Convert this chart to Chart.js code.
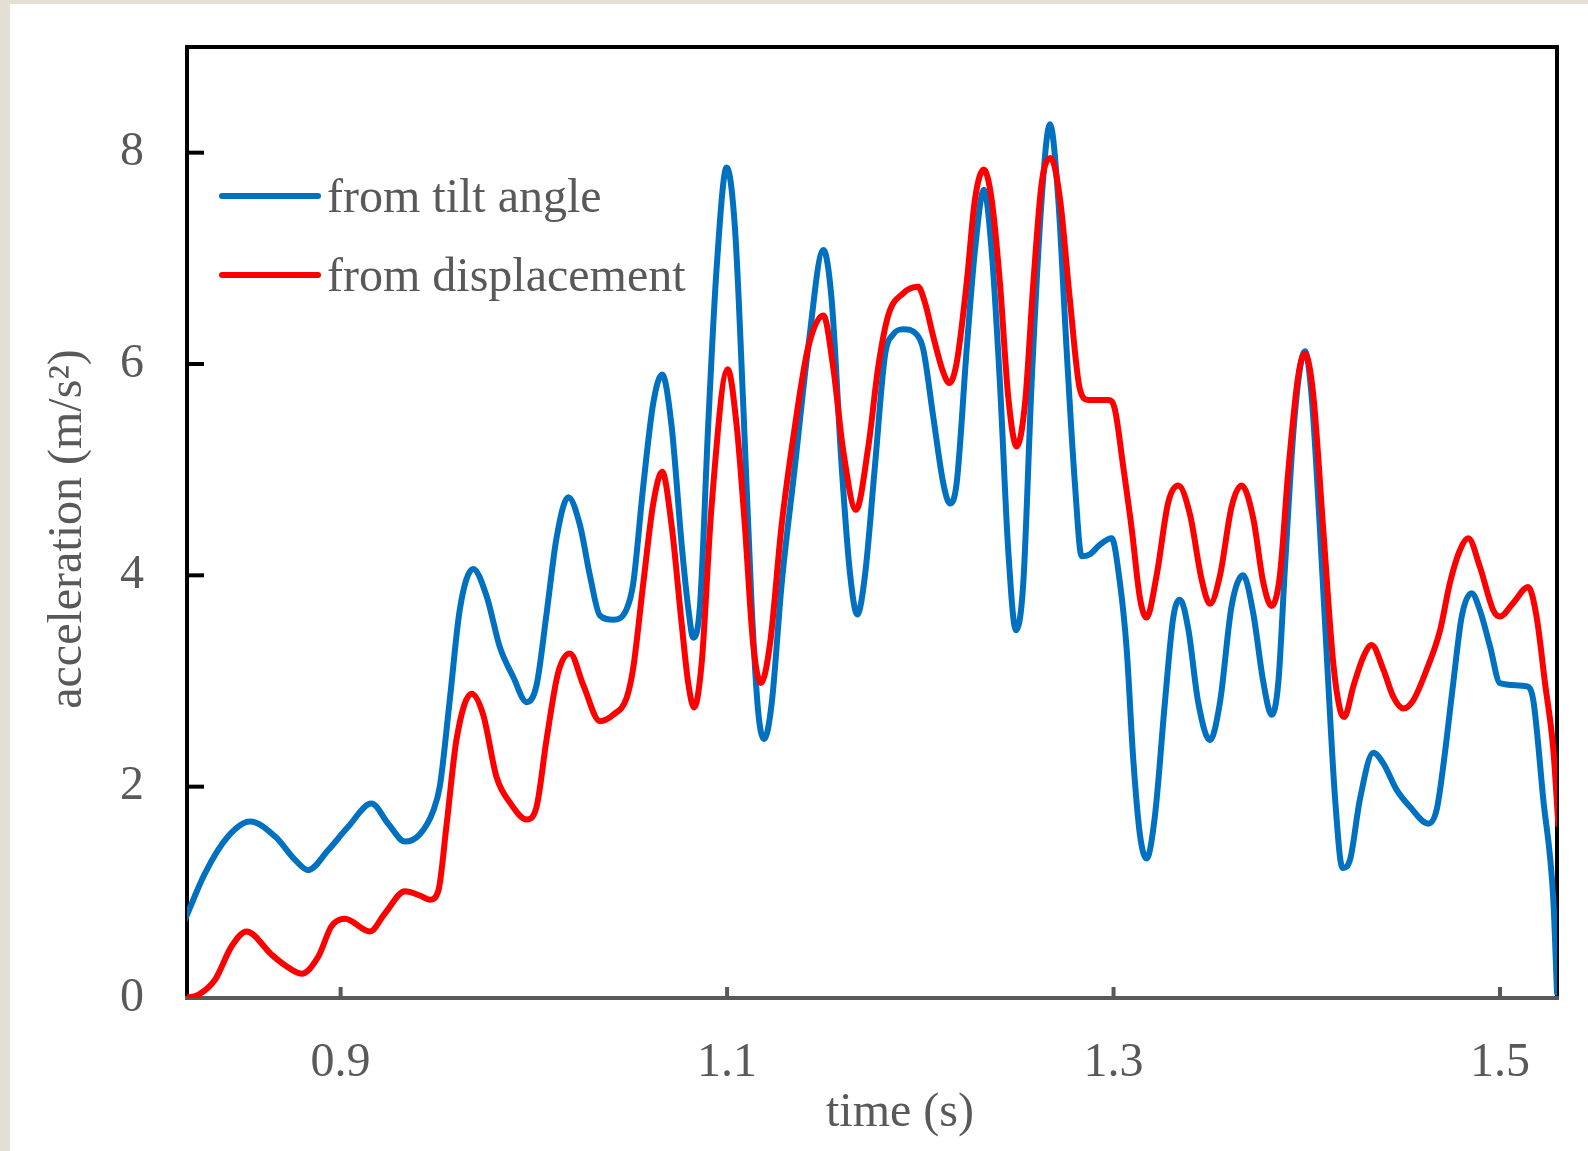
<!DOCTYPE html>
<html>
<head>
<meta charset="utf-8">
<title>acceleration vs time</title>
<script src="https://cdn.jsdelivr.net/npm/chart.js@4.4.1/dist/chart.umd.min.js"></script>
<style>
  html, body { margin: 0; padding: 0; background: #e4dfd4; }
  #wrap { width: 1588px; height: 1151px; }
</style>
</head>
<body>
<div id="wrap"><canvas id="accelChart" width="1588" height="1151"></canvas></div>
<script>
// data (time in s, acceleration in m/s^2)
const tiltTime = [0.8194, 0.8298, 0.8418, 0.8531, 0.8660, 0.8763, 0.8832, 0.8936, 0.9039, 0.9160,
  0.9246, 0.9333, 0.9410, 0.9479, 0.9514, 0.9566, 0.9617, 0.9686, 0.9756, 0.9824,
  0.9893, 0.9963, 1.0014, 1.0066, 1.0118, 1.0178, 1.0238, 1.0290, 1.0342, 1.0411,
  1.0480, 1.0514, 1.0566, 1.0618, 1.0664, 1.0713, 1.0765, 1.0799, 1.0825, 1.0860,
  1.0902, 1.0946, 1.0998, 1.1041, 1.1084, 1.1127, 1.1161, 1.1192, 1.1231, 1.1282,
  1.1351, 1.1420, 1.1498, 1.1541, 1.1593, 1.1636, 1.1674, 1.1713, 1.1765, 1.1817,
  1.1860, 1.1912, 1.1981, 1.2015, 1.2067, 1.2119, 1.2153, 1.2188, 1.2240, 1.2283,
  1.2329, 1.2369, 1.2412, 1.2455, 1.2495, 1.2533, 1.2576, 1.2628, 1.2671, 1.2714,
  1.2757, 1.2800, 1.2835, 1.2878, 1.2930, 1.2990, 1.3033, 1.3068, 1.3102, 1.3137,
  1.3171, 1.3214, 1.3266, 1.3309, 1.3344, 1.3387, 1.3438, 1.3499, 1.3551, 1.3611,
  1.3671, 1.3723, 1.3775, 1.3818, 1.3853, 1.3887, 1.3930, 1.3965, 1.3991, 1.4025,
  1.4068, 1.4111, 1.4146, 1.4185, 1.4224, 1.4275, 1.4344, 1.4396, 1.4465, 1.4534,
  1.4629, 1.4672, 1.4706, 1.4758, 1.4802, 1.4853, 1.4896, 1.4948, 1.5000, 1.5138,
  1.5172, 1.5224, 1.5276, 1.5295];
const tiltAccel = [0.74, 1.18, 1.53, 1.67, 1.53, 1.31, 1.21, 1.40, 1.62, 1.84,
  1.65, 1.48, 1.55, 1.77, 2.01, 2.84, 3.68, 4.06, 3.80, 3.32,
  3.04, 2.80, 2.96, 3.64, 4.36, 4.74, 4.48, 4.00, 3.62, 3.58,
  3.68, 3.92, 4.84, 5.63, 5.90, 5.41, 4.29, 3.69, 3.41, 3.72,
  5.41, 6.91, 7.86, 7.28, 5.60, 3.72, 2.71, 2.45, 2.79, 3.91,
  5.03, 6.16, 7.08, 6.61, 5.03, 4.02, 3.63, 3.99, 5.03, 6.08,
  6.28, 6.33, 6.28, 6.14, 5.50, 4.87, 4.68, 4.87, 6.14, 7.08,
  7.65, 7.08, 5.82, 4.24, 3.48, 3.93, 5.82, 7.56, 8.27, 7.56,
  6.14, 4.87, 4.18, 4.20, 4.29, 4.35, 3.93, 3.30, 2.26, 1.54,
  1.32, 1.72, 2.80, 3.60, 3.77, 3.49, 2.80, 2.44, 2.80, 3.71,
  4.00, 3.64, 2.99, 2.68, 2.99, 4.07, 5.34, 5.96, 6.12, 5.70,
  4.44, 2.99, 1.90, 1.23, 1.31, 1.88, 2.32, 2.22, 1.97, 1.81,
  1.65, 1.78, 2.19, 2.98, 3.61, 3.83, 3.67, 3.33, 2.98, 2.95,
  2.82, 1.88, 0.93, 0.05];

const dispTime = [0.8194, 0.8263, 0.8349, 0.8436, 0.8513, 0.8643, 0.8712, 0.8798, 0.8884, 0.8953,
  0.9022, 0.9152, 0.9229, 0.9333, 0.9410, 0.9462, 0.9505, 0.9549, 0.9600, 0.9678,
  0.9738, 0.9807, 0.9876, 0.9963, 1.0014, 1.0066, 1.0126, 1.0187, 1.0256, 1.0342,
  1.0411, 1.0480, 1.0514, 1.0566, 1.0618, 1.0664, 1.0713, 1.0765, 1.0799, 1.0829,
  1.0868, 1.0920, 1.1003, 1.1050, 1.1092, 1.1135, 1.1175, 1.1222, 1.1282, 1.1351,
  1.1420, 1.1498, 1.1549, 1.1601, 1.1667, 1.1731, 1.1782, 1.1834, 1.1912, 1.1989,
  1.2024, 1.2067, 1.2119, 1.2150, 1.2188, 1.2240, 1.2283, 1.2329, 1.2369, 1.2412,
  1.2455, 1.2499, 1.2542, 1.2585, 1.2628, 1.2675, 1.2723, 1.2774, 1.2826, 1.2869,
  1.2973, 1.3007, 1.3050, 1.3094, 1.3137, 1.3171, 1.3223, 1.3283, 1.3335, 1.3395,
  1.3456, 1.3499, 1.3551, 1.3611, 1.3663, 1.3723, 1.3775, 1.3818, 1.3861, 1.3904,
  1.3956, 1.3991, 1.4034, 1.4085, 1.4137, 1.4172, 1.4194, 1.4241, 1.4293, 1.4336,
  1.4396, 1.4448, 1.4500, 1.4552, 1.4621, 1.4690, 1.4741, 1.4793, 1.4836, 1.4896,
  1.4965, 1.5000, 1.5069, 1.5146, 1.5189, 1.5233, 1.5276, 1.5302];
const dispAccel = [0.00, 0.03, 0.17, 0.49, 0.63, 0.41, 0.31, 0.23, 0.39, 0.68,
  0.75, 0.63, 0.80, 1.01, 0.97, 0.93, 1.01, 1.65, 2.45, 2.88,
  2.68, 2.09, 1.85, 1.69, 1.81, 2.45, 3.08, 3.26, 2.96, 2.62,
  2.68, 2.84, 3.12, 3.92, 4.68, 4.98, 4.47, 3.54, 2.98, 2.75,
  3.16, 4.66, 5.95, 5.41, 4.47, 3.35, 2.98, 3.35, 4.47, 5.41,
  6.16, 6.46, 5.97, 5.18, 4.62, 5.22, 5.97, 6.46, 6.67, 6.73,
  6.58, 6.26, 5.92, 5.82, 6.01, 6.77, 7.56, 7.84, 7.56, 6.77,
  5.69, 5.22, 5.63, 6.77, 7.71, 7.95, 7.56, 6.61, 5.76, 5.66,
  5.66, 5.57, 5.03, 4.44, 3.78, 3.60, 4.00, 4.69, 4.85, 4.58,
  3.96, 3.73, 4.00, 4.65, 4.85, 4.54, 3.93, 3.71, 4.00, 4.98,
  5.89, 6.10, 5.70, 4.44, 3.17, 2.73, 2.66, 2.95, 3.23, 3.34,
  3.11, 2.85, 2.74, 2.82, 3.11, 3.48, 3.93, 4.24, 4.35, 4.08,
  3.67, 3.61, 3.74, 3.89, 3.61, 2.98, 2.35, 1.64];

const seriesNames = ['from tilt angle', 'from displacement'];
const xTicks = [0.9, 1.1, 1.3, 1.5];
const yTicks = [0, 2, 4, 6, 8];

const BLUE = '#0070c0';
const RED = '#ff0000';
const GREY = '#595959';
const SERIF = '"Liberation Serif", "Times New Roman", serif';

function toPoints(xs, ys) {
    return xs.map((x, i) => ({ x: x, y: ys[i] }));
}

// keep the plot box where the figure has it
function noEdgePadding(s) {
    s.paddingTop = 0;
    s.paddingBottom = 0;
    s.paddingLeft = 0;
    s.paddingRight = 0;
}

// background, frame and inward ticks (under the curves)
const framePlugin = {
    id: 'frame',
    beforeDraw(chart) {
        const c = chart.ctx;
        c.save();
        c.fillStyle = '#e4dfd4';
        c.fillRect(0, 0, chart.width, chart.height);
        c.fillStyle = '#ffffff';
        c.fillRect(10, 4, chart.width - 10, chart.height - 4);
        c.restore();
    },
    beforeDatasetsDraw(chart) {
        const c = chart.ctx;
        const a = chart.chartArea;
        const xs = chart.scales.x, ys = chart.scales.y;
        c.save();
        c.lineWidth = 4;
        c.lineCap = 'butt';
        // ticks on the y axis
        c.strokeStyle = '#000000';
        yTicks.forEach(v => {
            const py = ys.getPixelForValue(v);
            c.beginPath();
            c.moveTo(a.left, py);
            c.lineTo(a.left + 17, py);
            c.stroke();
        });
        // ticks on the x axis
        c.strokeStyle = GREY;
        xTicks.forEach(v => {
            const px = xs.getPixelForValue(v);
            c.beginPath();
            c.moveTo(px, a.bottom);
            c.lineTo(px, a.bottom - 11);
            c.stroke();
        });
        // black box: left, top, right
        c.strokeStyle = '#000000';
        c.lineJoin = 'miter';
        c.beginPath();
        c.moveTo(a.left, a.bottom + 2);
        c.lineTo(a.left, a.top);
        c.lineTo(a.right, a.top);
        c.lineTo(a.right, a.bottom);
        c.stroke();
        // grey bottom axis
        c.strokeStyle = GREY;
        c.beginPath();
        c.moveTo(a.left - 2, a.bottom);
        c.lineTo(a.right + 2, a.bottom);
        c.stroke();
        c.restore();
    },
    afterDraw(chart) {
        const c = chart.ctx;
        c.save();
        // legend inside the plot
        const rows = [{ ds: chart.data.datasets[0], y: 196 }, { ds: chart.data.datasets[1], y: 275 }];
        c.font = '48px ' + SERIF;
        c.textAlign = 'left';
        c.textBaseline = 'alphabetic';
        rows.forEach(r => {
            c.strokeStyle = r.ds.borderColor;
            c.lineWidth = 6;
            c.lineCap = 'round';
            c.beginPath();
            c.moveTo(222, r.y);
            c.lineTo(318, r.y);
            c.stroke();
            c.fillStyle = GREY;
            c.fillText(r.ds.label, 327, r.y + 16);
        });
        // axis titles
        c.fillStyle = GREY;
        c.textAlign = 'center';
        c.fillText('time (s)', 900, 1126);
        c.translate(81, 529);
        c.rotate(-Math.PI / 2);
        c.fillText('acceleration (m/s\u00b2)', 0, 0);
        c.restore();
    }
};

document.addEventListener('DOMContentLoaded', function () {
    const ctx = document.getElementById('accelChart').getContext('2d');
    new Chart(ctx, {
        type: 'line',
        data: {
            datasets: [{
                label: seriesNames[0],
                data: toPoints(tiltTime, tiltAccel),
                borderColor: BLUE,
                borderWidth: 6,
                order: 2
            }, {
                label: seriesNames[1],
                data: toPoints(dispTime, dispAccel),
                borderColor: RED,
                borderWidth: 6,
                order: 1
            }]
        },
        options: {
            responsive: false,
            animation: false,
            devicePixelRatio: 1,
            layout: { padding: { left: 10, top: 47, right: 31, bottom: 10 } },
            elements: {
                point: { radius: 0 },
                line: { cubicInterpolationMode: 'monotone', fill: false, borderCapStyle: 'round', borderJoinStyle: 'round' }
            },
            scales: {
                x: {
                    type: 'linear',
                    min: 0.8205,
                    max: 1.5295,
                    afterBuildTicks: s => { s.ticks = xTicks.map(v => ({ value: v })); },
                    afterFit: s => { s.height = 143; noEdgePadding(s); },
                    grid: { display: false, drawTicks: false },
                    border: { display: false },
                    ticks: {
                        color: GREY,
                        font: { family: SERIF, size: 48 },
                        padding: 37,
                        maxRotation: 0,
                        autoSkip: false,
                        callback: v => v.toFixed(1)
                    }
                },
                y: {
                    min: 0,
                    max: 9,
                    afterBuildTicks: s => { s.ticks = yTicks.map(v => ({ value: v })); },
                    afterFit: s => { s.width = 177; noEdgePadding(s); },
                    grid: { display: false, drawTicks: false },
                    border: { display: false },
                    ticks: {
                        color: GREY,
                        font: { family: SERIF, size: 48 },
                        padding: 43,
                        callback: v => String(v)
                    }
                }
            },
            plugins: {
                legend: { display: false },
                tooltip: { enabled: false }
            }
        },
        plugins: [framePlugin]
    });
});
</script>
</body>
</html>
